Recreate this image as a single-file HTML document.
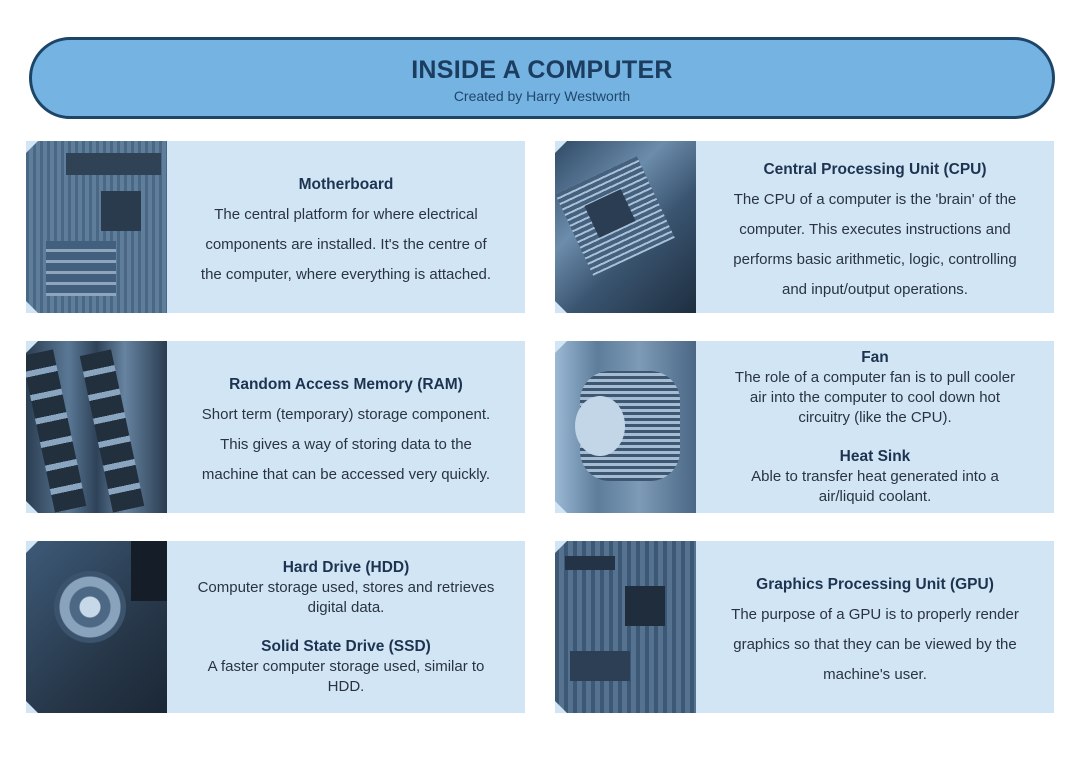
<!DOCTYPE html>
<html><head><style>
body{margin:0;width:1080px;height:763px;background:#fff;position:relative;font-family:"Liberation Sans",sans-serif;overflow:hidden}
.hdr{position:absolute;left:29px;top:37px;width:1026px;height:82px;box-sizing:border-box;border:3px solid #1c4568;border-radius:41px;background:#74b3e2;text-align:center}
.hdr h1{margin:16px 0 0;font-size:25px;font-weight:bold;color:#1b3d60;letter-spacing:0.3px}
.hdr p{margin:3px 0 0;font-size:14px;color:#22466a}
.card{position:absolute;width:499px;height:172px;background:#d1e5f5}
.img{position:absolute;left:0;top:0;width:141px;height:172px;clip-path:polygon(12px 0,100% 0,100% 100%,12px 100%,0 calc(100% - 12px),0 12px)}
.txt{position:absolute;left:141px;top:6px;width:358px;height:166px;display:flex;flex-direction:column;justify-content:center;align-items:center;text-align:center;color:#2a3440;font-size:15px}
.txt b{color:#1d3450;font-size:15.5px}
.l30{line-height:30px}.l20{line-height:20px}
</style></head><body>
<div class="hdr"><h1>INSIDE A COMPUTER</h1><p>Created by Harry Westworth</p></div>

<div class="card" style="left:26px;top:141px">
<div class="img" style="background:repeating-linear-gradient(90deg,#4a6884 0 3px,#5f7e9b 3px 7px)"><div style="position:absolute;left:40px;top:12px;width:95px;height:22px;background:#2f4256"></div><div style="position:absolute;left:75px;top:50px;width:40px;height:40px;background:#2a3b4d"></div><div style="position:absolute;left:20px;top:100px;width:70px;height:55px;background:repeating-linear-gradient(0deg,#8ea6bd 0 3px,#42607e 3px 11px)"></div></div>
<div class="txt l30"><b>Motherboard</b>The central platform for where electrical<br>components are installed. It's the centre of<br>the computer, where everything is attached.</div></div>

<div class="card" style="left:555px;top:141px">
<div class="img" style="background:linear-gradient(135deg,#2f4a66 0%,#6c8cab 35%,#3a5570 60%,#1e2e40 100%)"><div style="position:absolute;left:15px;top:30px;width:90px;height:90px;transform:rotate(-25deg);background:repeating-linear-gradient(0deg,#a8c0d8 0 2px,#45617e 2px 6px)"></div><div style="position:absolute;left:35px;top:55px;width:40px;height:35px;background:#2a3d52;transform:rotate(-25deg)"></div></div>
<div class="txt l30"><b>Central Processing Unit (CPU)</b>The CPU of a computer is the 'brain' of the<br>computer. This executes instructions and<br>performs basic arithmetic, logic, controlling<br>and input/output operations.</div></div>

<div class="card" style="left:26px;top:341px">
<div class="img" style="background:linear-gradient(90deg,#2b3e52,#5a7895 30%,#2e4258 50%,#6683a0 70%,#2a3c50)"><div style="position:absolute;left:12px;top:10px;width:32px;height:160px;transform:rotate(-12deg);background:repeating-linear-gradient(0deg,#22303e 0 18px,#8aa5c0 18px 24px)"></div><div style="position:absolute;left:70px;top:10px;width:32px;height:160px;transform:rotate(-12deg);background:repeating-linear-gradient(0deg,#22303e 0 18px,#8aa5c0 18px 24px)"></div></div>
<div class="txt l30"><b>Random Access Memory (RAM)</b>Short term (temporary) storage component.<br>This gives a way of storing data to the<br>machine that can be accessed very quickly.</div></div>

<div class="card" style="left:555px;top:341px">
<div class="img" style="background:linear-gradient(90deg,#9bb8d4,#5d7d9b 30%,#7d9ab6 60%,#4a6886)"><div style="position:absolute;left:25px;top:30px;width:100px;height:110px;border-radius:30px;background:repeating-linear-gradient(0deg,#3e5670 0 3px,#a4bdd5 3px 6px)"></div><div style="position:absolute;left:20px;top:55px;width:50px;height:60px;border-radius:50%;background:#c3d6e8"></div></div>
<div class="txt l20" style="top:0;height:172px"><b>Fan</b>The role of a computer fan is to pull cooler<br>air into the computer to cool down hot<br>circuitry (like the CPU).<div style="height:19px"></div><b>Heat Sink</b>Able to transfer heat generated into a<br>air/liquid coolant.</div></div>

<div class="card" style="left:26px;top:541px">
<div class="img" style="background:linear-gradient(135deg,#3d5a78,#27384a 60%,#1b2735)"><div style="position:absolute;left:28px;top:30px;width:72px;height:72px;border-radius:50%;background:radial-gradient(circle,#c7d8e8 0 10px,#4c6885 11px 20px,#8aa3bc 21px 30px,#3b536c 31px)"></div><div style="position:absolute;left:105px;top:0;width:36px;height:60px;background:#141d28"></div></div>
<div class="txt l20" style="top:0;height:172px"><b>Hard Drive (HDD)</b>Computer storage used, stores and retrieves<br>digital data.<div style="height:19px"></div><b>Solid State Drive (SSD)</b>A faster computer storage used, similar to<br>HDD.</div></div>

<div class="card" style="left:555px;top:541px">
<div class="img" style="background:repeating-linear-gradient(90deg,#3c5875 0 4px,#557390 4px 9px)"><div style="position:absolute;left:70px;top:45px;width:40px;height:40px;background:#1f2d3c"></div><div style="position:absolute;left:10px;top:15px;width:50px;height:14px;background:#243446"></div><div style="position:absolute;left:15px;top:110px;width:60px;height:30px;background:#2c3f54"></div></div>
<div class="txt l30"><b>Graphics Processing Unit (GPU)</b>The purpose of a GPU is to properly render<br>graphics so that they can be viewed by the<br>machine's user.</div></div>
</body></html>
